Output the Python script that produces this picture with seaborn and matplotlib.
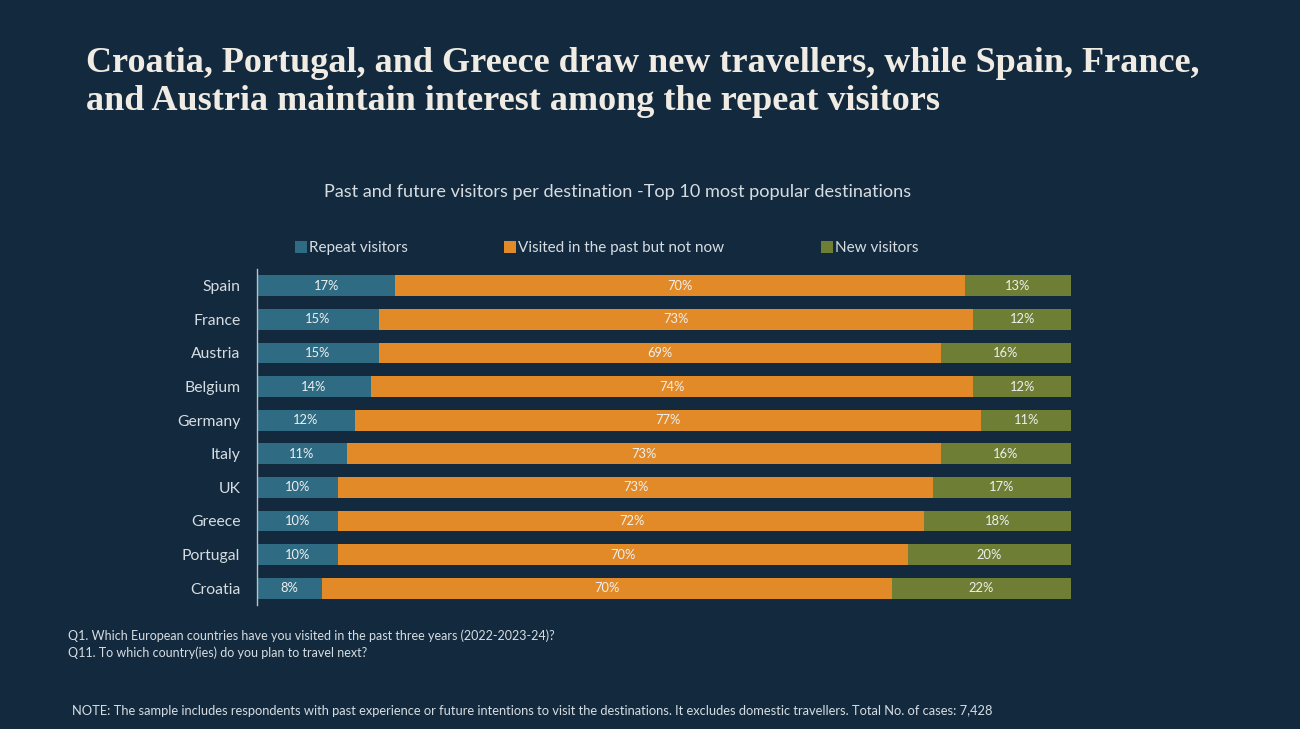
import matplotlib
matplotlib.use("Agg")
import matplotlib.pyplot as plt
import pandas as pd
import seaborn as sns

countries = ["Spain", "France", "Austria", "Belgium", "Germany",
             "Italy", "UK", "Greece", "Portugal", "Croatia"]
repeat = [17, 15, 15, 14, 12, 11, 10, 10, 10, 8]
past_only = [70, 73, 69, 74, 77, 73, 73, 72, 70, 70]
new = [13, 12, 16, 12, 11, 16, 17, 18, 20, 22]
series_names = ["Repeat visitors", "Visited in the past but not now", "New visitors"]

BG = "#132a3e"
COLORS = ["#2f6b83", "#e38a28", "#6e7f35"]
TEXT = "#d6dde2"

sns.set_theme(style="white")
plt.rcParams["font.family"] = ["Lato", "DejaVu Sans"]

df = pd.DataFrame({"country": countries, "repeat": repeat,
                   "past_only": past_only, "new": new})
df["cum_past"] = df["repeat"] + df["past_only"]
df["cum_new"] = df["cum_past"] + df["new"]

fig = plt.figure(figsize=(13, 7.29), dpi=100, facecolor=BG)
ax = fig.add_axes([257 / 1300, 1 - 605 / 729, (1071 - 257) / 1300, (605 - 269) / 729])
ax.set_facecolor(BG)

# stacked bars drawn as overlapping cumulative totals
for col, color, name in zip(["cum_new", "cum_past", "repeat"], COLORS[::-1], series_names[::-1]):
    sns.barplot(data=df, y="country", x=col, color=color, width=0.62,
                saturation=1, ax=ax, label=name, orient="h", linewidth=0)

ax.set_xlim(0, 100)
ax.set_ylim(9.5, -0.5)
ax.set_xlabel("")
ax.set_ylabel("")
ax.set_xticks([])
ax.tick_params(axis="y", length=0, pad=12, labelsize=11.3, labelcolor=TEXT)
for side in ["top", "right", "bottom"]:
    ax.spines[side].set_visible(False)
ax.spines["left"].set_color("#b8c2c9")
ax.spines["left"].set_linewidth(1)

# segment labels
for i in range(len(countries)):
    starts = [0, repeat[i], repeat[i] + past_only[i]]
    for start, val in zip(starts, [repeat[i], past_only[i], new[i]]):
        ax.text(start + val / 2, i, f"{val}%", ha="center", va="center",
                fontsize=9.3, color="#eef0f0")

# legend in the original order
handles, labels = ax.get_legend_handles_labels()
order = [labels.index(n) for n in series_names]
ax.legend([handles[k] for k in order], [labels[k] for k in order],
          loc="center left", bbox_to_anchor=(295 / 1300, 1 - 248 / 729),
          bbox_transform=fig.transFigure, ncol=3, frameon=False,
          fontsize=11, labelcolor=TEXT, handlelength=0.8, handleheight=0.8,
          handletextpad=0.12, columnspacing=6.3, borderpad=0, borderaxespad=0)

title_font = ["Liberation Serif", "DejaVu Serif"]
fig.text(86 / 1300, 1 - 63 / 729,
         "Croatia, Portugal, and Greece draw new travellers, while Spain, France,",
         fontsize=26, fontweight="bold", family=title_font,
         color="#f0ece4", va="center", ha="left")
fig.text(86 / 1300, 1 - 101 / 729,
         "and Austria maintain interest among the repeat visitors",
         fontsize=26, fontweight="bold", family=title_font,
         color="#f0ece4", va="center", ha="left")

fig.text(618 / 1300, 1 - 192 / 729,
         "Past and future visitors per destination -Top 10 most popular destinations",
         fontsize=13.1, color=TEXT, ha="center", va="center")

fig.text(68 / 1300, 1 - 636 / 729,
         "Q1. Which European countries have you visited in the past three years (2022-2023-24)?",
         fontsize=9, color=TEXT, va="center")
fig.text(68 / 1300, 1 - 653 / 729,
         "Q11. To which country(ies) do you plan to travel next?",
         fontsize=9, color=TEXT, va="center")
fig.text(72 / 1300, 1 - 711 / 729,
         "NOTE: The sample includes respondents with past experience or future intentions to visit "
         "the destinations. It excludes domestic travellers. Total No. of cases: 7,428",
         fontsize=9.3, color=TEXT, va="center")

fig.savefig("out.png", dpi=100, facecolor=BG)
